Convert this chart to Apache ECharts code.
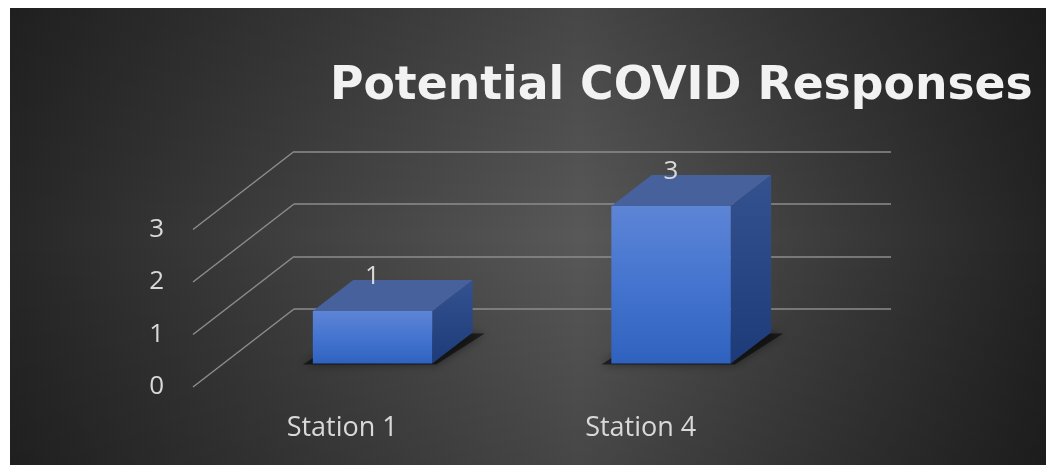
<!DOCTYPE html>
<html>
<head>
<meta charset="utf-8">
<script src="https://cdn.jsdelivr.net/npm/echarts@6/dist/echarts.min.js"></script>
<style>
html, body { margin: 0; padding: 0; background: #fff; }
#chart { width: 1047px; height: 465px; }
</style>
</head>
<body>
<div id="chart"></div>
<script>
var categories = ['Station 1', 'Station 4'];
var responses = [1, 3];
var yTicks = [0, 1, 2, 3];

// floor depth vector (front edge -> back wall) and where the boxes sit in it
var DX = 101, DY = -78;
var FRONT = 0.3, BACK = 0.7;
var BAR_RATIO = 0.4;

var chart = echarts.init(document.getElementById('chart'));

var frontGrid = { left: 193, top: 229.5, width: 597, height: 157.5 };
var backGrid = { left: 193 + DX, top: 229.5 + DY, width: 597, height: 157.5 };

// 3D box drawn from the axis scale
function renderBox(params, api) {
	var base = api.coord([api.value(0), 0]);
	var top = api.coord([api.value(0), api.value(1)]);
	var w = api.size([1, 0])[0] * BAR_RATIO;
	var fx = base[0] + FRONT * DX;
	var y0 = base[1] + FRONT * DY;
	var y1 = top[1] + FRONT * DY;
	var ddx = (BACK - FRONT) * DX, ddy = (BACK - FRONT) * DY;
	var l = fx - w / 2, r = fx + w / 2;
	return {
		type: 'group',
		children: [
			{
				type: 'polygon',
				shape: { points: [[l - 10, y0 + 1], [r + 4, y0 + 1], [r + ddx + 12, y0 + ddy + 1], [l + ddx, y0 + ddy]] },
				style: { fill: 'rgba(0,0,0,0.55)', shadowBlur: 10, shadowColor: 'rgba(0,0,0,0.8)' }
			},
			{
				type: 'polygon',
				shape: { points: [[r, y1], [r + ddx, y1 + ddy], [r + ddx, y0 + ddy], [r, y0]] },
				style: {
					fill: new echarts.graphic.LinearGradient(0, 0, 0, 1, [
						{ offset: 0, color: '#34528f' },
						{ offset: 1, color: '#1d3b78' }
					])
				}
			},
			{
				type: 'polygon',
				shape: { points: [[l, y1], [r, y1], [r + ddx, y1 + ddy], [l + ddx, y1 + ddy]] },
				style: { fill: '#47619c' }
			},
			{
				type: 'rect',
				shape: { x: l, y: y1, width: w, height: y0 - y1 },
				style: {
					fill: new echarts.graphic.LinearGradient(0, 0, 0, 1, [
						{ offset: 0, color: '#5d85d6' },
						{ offset: 0.5, color: '#4474cf' },
						{ offset: 1, color: '#2f62bf' }
					])
				}
			},
			{
				type: 'text',
				style: {
					x: fx, y: y1 - 35, text: String(api.value(1)),
					fill: '#d9d9d9', font: '26px "Open Sans"', align: 'center', verticalAlign: 'middle'
				}
			}
		]
	};
}

// side wall diagonals, one per tick
function renderWall(params, api) {
	var p = api.coord([0, api.value(0)]);
	var x0 = p[0] - api.size([1, 0])[0] / 2;
	return {
		type: 'line',
		shape: { x1: x0, y1: p[1], x2: x0 + DX, y2: p[1] + DY },
		style: { stroke: '#8c8c8c', lineWidth: 1.5 }
	};
}

var option = {
	backgroundColor: '#ffffff',
	animation: false,
	graphic: [
		{
			type: 'rect', z: -10, silent: true,
			shape: { x: 10, y: 8, width: 1036, height: 457 },
			style: {
				fill: new echarts.graphic.LinearGradient(0, 0, 1, 0, [
					{ offset: 0, color: '#272727' },
					{ offset: 0.55, color: '#585858' },
					{ offset: 1, color: '#232323' }
				])
			}
		},
		{
			type: 'rect', z: -9, silent: true,
			shape: { x: 10, y: 8, width: 1036, height: 457 },
			style: {
				fill: new echarts.graphic.LinearGradient(0, 0, 0, 1, [
					{ offset: 0, color: 'rgba(0,0,0,0.2)' },
					{ offset: 0.5, color: 'rgba(0,0,0,0)' },
					{ offset: 1, color: 'rgba(0,0,0,0.2)' }
				])
			}
		},
		{
			type: 'text', left: 330, top: 64,
			style: {
				text: 'Potential COVID Responses',
				fill: '#f2f2f2',
				font: 'bold 45.7px "DejaVu Sans"',
				shadowBlur: 4, shadowColor: 'rgba(0,0,0,0.7)', shadowOffsetX: 2, shadowOffsetY: 2
			}
		}
	],
	grid: [
		{ left: frontGrid.left, top: frontGrid.top, width: frontGrid.width, height: frontGrid.height },
		{ left: backGrid.left, top: backGrid.top, width: backGrid.width, height: backGrid.height }
	],
	xAxis: [
		{
			type: 'category', gridIndex: 0, data: categories,
			axisLine: { show: false }, axisTick: { show: false },
			axisLabel: { color: '#d9d9d9', fontSize: 27, fontFamily: 'Open Sans', margin: 28 }
		},
		{
			type: 'category', gridIndex: 1, data: categories, show: false
		}
	],
	yAxis: [
		{
			type: 'value', gridIndex: 0, min: 0, max: 3, interval: 1,
			axisLine: { show: false }, axisTick: { show: false }, splitLine: { show: false },
			axisLabel: { color: '#d9d9d9', fontSize: 26, fontFamily: 'Open Sans', margin: 29 }
		},
		{
			type: 'value', gridIndex: 1, min: 0, max: 3, interval: 1,
			axisLine: { show: false }, axisTick: { show: false }, axisLabel: { show: false },
			splitLine: { lineStyle: { color: '#8c8c8c', width: 1.5 } }
		}
	],
	series: [
		{
			type: 'custom', name: 'walls', xAxisIndex: 0, yAxisIndex: 0,
			renderItem: renderWall, silent: true,
			data: yTicks.map(function(v) { return [v]; }),
			encode: { y: 0 }
		},
		{
			type: 'custom', name: 'Responses', xAxisIndex: 0, yAxisIndex: 0,
			renderItem: renderBox,
			data: categories.map(function(c, i) { return [i, responses[i]]; }),
			encode: { x: 0, y: 1 },
			z: 5
		}
	]
};

chart.setOption(option);
</script>
</body>
</html>
